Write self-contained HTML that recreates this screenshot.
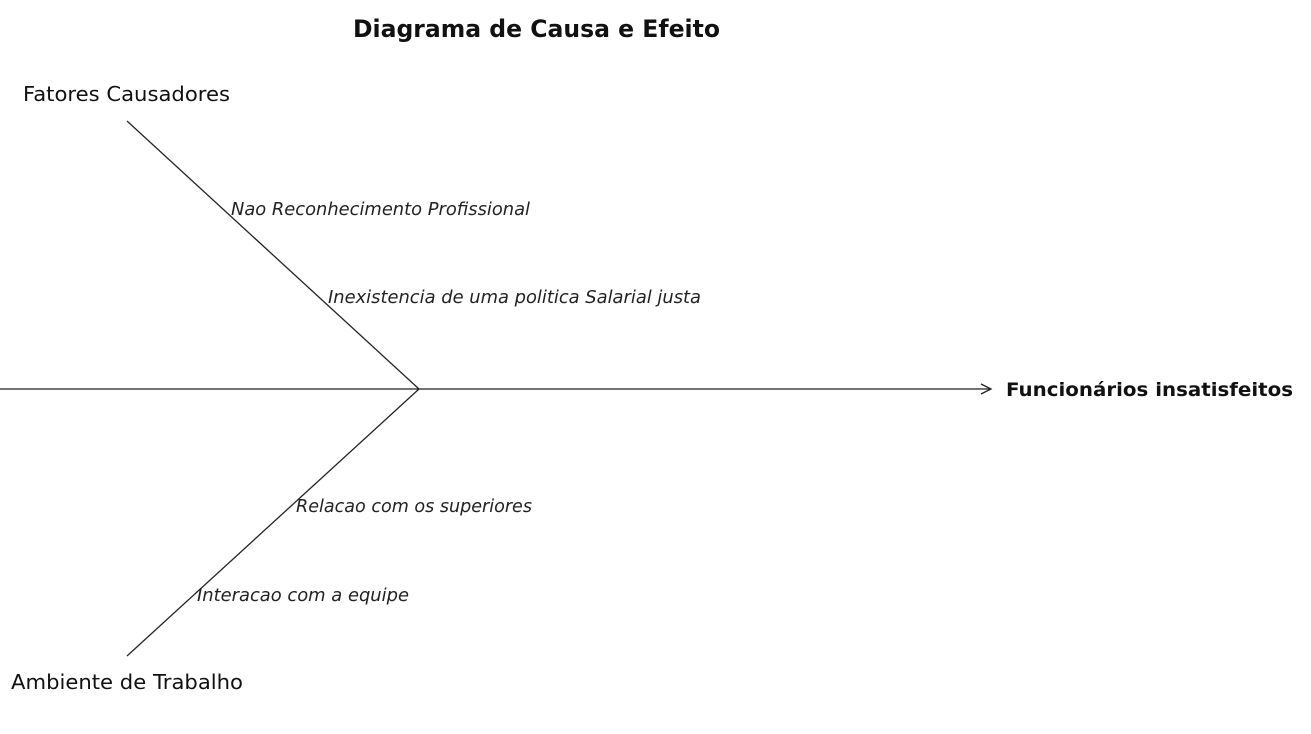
<!DOCTYPE html>
<html><head><meta charset="utf-8"><style>html,body{margin:0;padding:0;background:#fff;}svg{display:block}</style></head>
<body>
<svg width="1311" height="734" xmlns="http://www.w3.org/2000/svg" font-family="'DejaVu Sans','Liberation Sans',sans-serif" fill="#111">
<text x="353" y="37" font-size="24" font-weight="bold" textLength="367" lengthAdjust="spacingAndGlyphs">Diagrama de Causa e Efeito</text>
<text x="23" y="101" font-size="20" textLength="207" lengthAdjust="spacingAndGlyphs">Fatores Causadores</text>
<text x="11" y="689" font-size="20" textLength="232" lengthAdjust="spacingAndGlyphs">Ambiente de Trabalho</text>
<g stroke="#222" stroke-width="1.3" fill="none">
<line x1="0" y1="389" x2="991" y2="389"/>
<line x1="127" y1="121" x2="419" y2="389"/>
<line x1="419" y1="389" x2="127" y2="656"/>
<polyline points="981,384 991,389 981,394"/>
</g>
<g font-size="18" font-style="italic" fill="#222">
<text x="231" y="215" textLength="299" lengthAdjust="spacingAndGlyphs">Nao Reconhecimento Profissional</text>
<text x="328" y="303" textLength="373" lengthAdjust="spacingAndGlyphs">Inexistencia de uma politica Salarial justa</text>
<text x="296" y="512" textLength="236" lengthAdjust="spacingAndGlyphs">Relacao com os superiores</text>
<text x="197" y="601" textLength="212" lengthAdjust="spacingAndGlyphs">Interacao com a equipe</text>
</g>
<text x="1006" y="396" font-size="19" font-weight="bold" textLength="287" lengthAdjust="spacingAndGlyphs">Funcionários insatisfeitos</text>
</svg>
</body></html>
